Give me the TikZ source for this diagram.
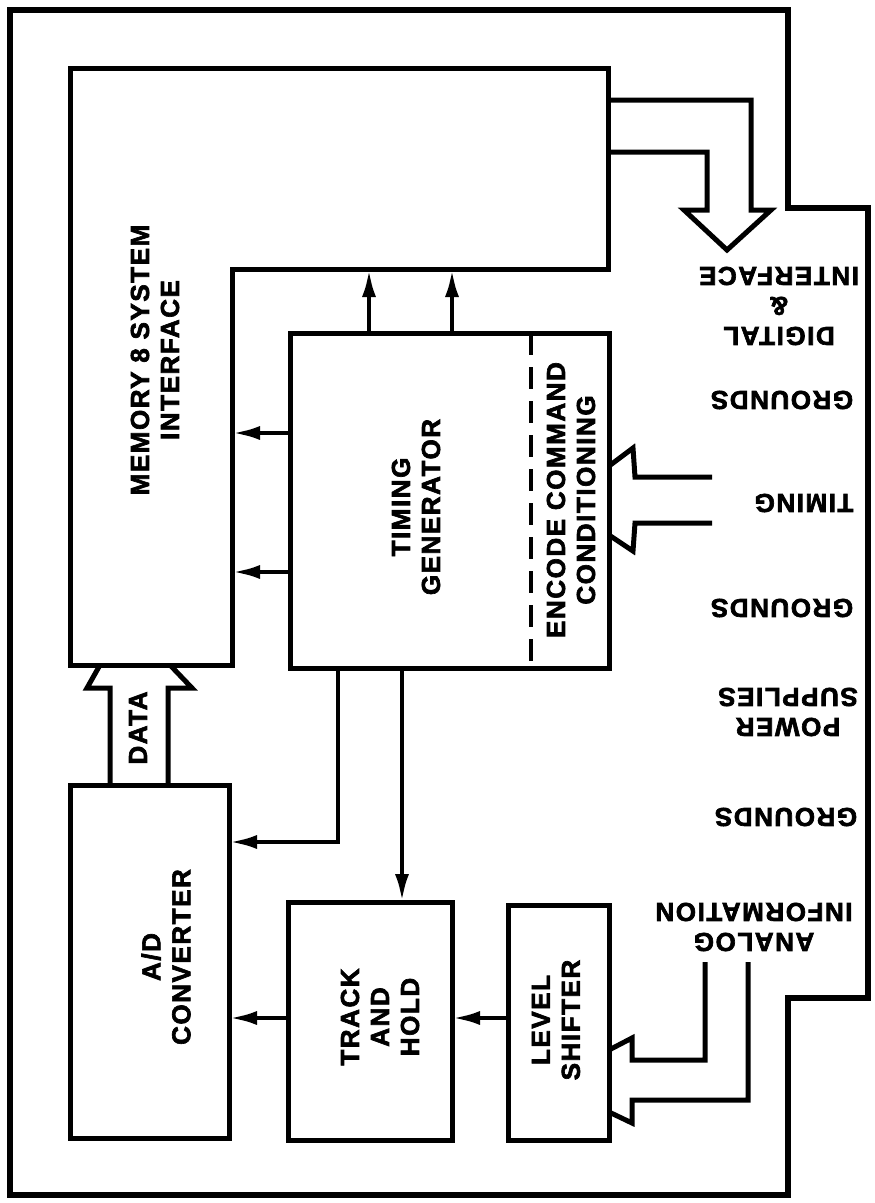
\documentclass[tikz,border=0pt]{standalone}
\usepackage{fontspec}
\newfontfamily\labfont[LetterSpace=6,BoldFeatures={FakeBold=2.5}]{Liberation Sans}
\usetikzlibrary{arrows.meta}
\begin{document}
\begin{tikzpicture}[x=1pt,y=-1pt,
  frame/.style={line width=6.5pt, line join=miter},
  blk/.style={draw, line width=5pt, rectangle, outer sep=0pt, inner sep=0pt, anchor=north west},
  arr/.style={line width=4.5pt, -{Latex[length=28pt,width=14pt]}},
  bus/.style={line width=5pt, line join=miter},
  lbl/.style={font=\labfont\bfseries\fontsize{26}{30}\selectfont, align=center, inner sep=0pt},
  vlbl/.style={lbl, rotate=90},
  rlbl/.style={lbl, rotate=180},
]
\useasboundingbox (0,0) rectangle (875,1203);

% outer frame
\draw[frame] (10,10) -- (788,10) -- (788,208) -- (868,208) -- (868,998)
  -- (788,998) -- (788,1195) -- (10,1195) -- cycle;

% memory & system interface (L-shaped block)
\coordinate (memTL) at (70,68);
\coordinate (memTR) at (608,68);
\coordinate (memBR) at (608,269);
\coordinate (memIn) at (232,269);
\coordinate (memBL) at (70,665);
\coordinate (memB) at (232,665);
\draw[line width=5pt, line join=miter] (memTL) -- (memTR) -- (memBR) -- (memIn) -- (memB) -- (memBL) -- cycle;

% blocks
\node[blk, minimum width=319pt, minimum height=335pt] (tg) at (290,333) {};
\node[blk, minimum width=159pt, minimum height=353pt] (ad) at (70,785) {};
\node[blk, minimum width=164pt, minimum height=238pt] (th) at (288,902) {};
\node[blk, minimum width=101pt, minimum height=235pt] (ls) at (508,905) {};

% dashed divider in timing generator
\coordinate (dsh) at (531,0);
\draw[line width=3.5pt, dash pattern=on 22pt off 12pt] (tg.north -| dsh) -- (tg.south -| dsh);

% block labels
\node[vlbl] (tMem) at (155,360) {MEMORY 8 SYSTEM\\INTERFACE};
\node[vlbl] (tTg) at (416,507) {TIMING\\GENERATOR};
\node[vlbl] (tEnc) at (571,500) {ENCODE COMMAND\\CONDITIONING};
\node[vlbl] (tData) at (138,728) {DATA};
\node[vlbl] (tAd) at (166,957) {A/D\\CONVERTER};
\node[vlbl] (tTh) at (380,1017) {TRACK\\AND\\HOLD};
\node[vlbl] (tLs) at (556,1020) {LEVEL\\SHIFTER};

% right-side labels (upside down)
\node[rlbl] (tDig) at (779,306) {DIGITAL\\\&\\INTERFACE};
\node[rlbl] (tG1) at (782,400) {GROUNDS};
\node[rlbl] (tTim) at (804,503) {TIMING};
\node[rlbl] (tG2) at (782,608) {GROUNDS};
\node[rlbl] (tPow) at (788,712) {POWER\\SUPPLIES};
\node[rlbl] (tG3) at (786,817) {GROUNDS};
\node[rlbl] (tAna) at (754,927) {ANALOG\\INFORMATION};

% timing generator -> memory
\coordinate (mb1) at (369,269);
\coordinate (mb2) at (452,269);
\draw[arr] (tg.north -| mb1) -- (mb1);
\draw[arr] (tg.north -| mb2) -- (mb2);
\coordinate (mr1) at (232,433);
\coordinate (mr2) at (232,572);
\draw[arr] (tg.west |- mr1) -- (mr1);
\draw[arr] (tg.west |- mr2) -- (mr2);

% timing generator -> A/D and track & hold
\coordinate (d1) at (338,842);
\draw[arr] (tg.south -| d1) -- (d1) -- (ad.east |- d1);
\coordinate (d2) at (402,0);
\draw[arr] (tg.south -| d2) -- (th.north -| d2);

% signal chain
\coordinate (hh) at (0,1018);
\draw[arr] (ls.west |- hh) -- (th.east |- hh);
\draw[arr] (th.west |- hh) -- (ad.east |- hh);

% digital interface output bus
\draw[bus] (memTR |- 0,100) -| (751,210) -- (771,210) -- (727,250) -- (684,210) -- (707,210) |- (memTR |- 0,152);

% timing input bus
\draw[bus] (712,477) -- (635,477) -- (633,448) -- (tg.east |- 0,466);
\draw[bus] (712,523) -- (635,523) -- (633,551) -- (tg.east |- 0,535);

% analog input bus
\draw[bus] (705,962) |- (632,1060) -- (632,1038) -- (ls.east |- 0,1050);
\draw[bus] (748,962) |- (632,1100) -- (632,1123) -- (ls.east |- 0,1112);

% data bus
\draw[bus] (ad.north -| 110,0) -- (110,688) -- (87,688) -- (memBL -| 100,0);
\draw[bus] (ad.north -| 168,0) -- (168,688) -- (192,688) -- (memBL -| 170,0);
\end{tikzpicture}
\end{document}
